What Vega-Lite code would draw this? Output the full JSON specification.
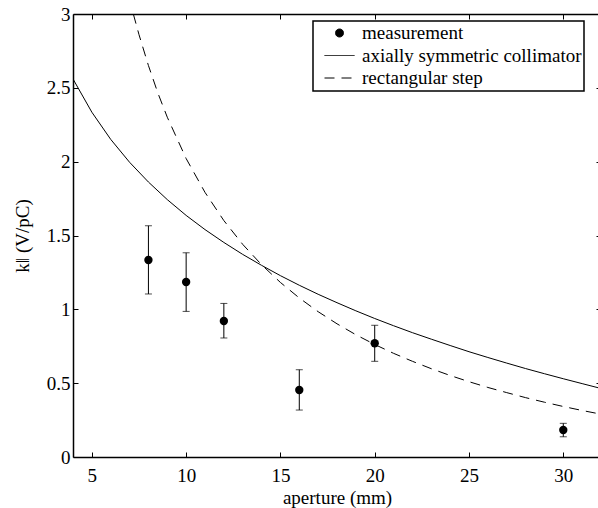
{
  "$schema": "https://vega.github.io/schema/vega-lite/v6.json",
  "width": 528,
  "height": 443,
  "autosize": {"type": "none"},
  "padding": {"left": 73, "top": 14, "right": 0, "bottom": 51},
  "background": "white",
  "config": {
    "font": "Times New Roman, Liberation Serif, Times, serif",
    "view": {"stroke": null},
    "axis": {
      "domainColor": "black", "tickColor": "black", "labelColor": "black", "titleColor": "black",
      "labelFont": "Times New Roman, Liberation Serif, Times, serif", "titleFont": "Times New Roman, Liberation Serif, Times, serif",
      "labelFontSize": 19, "titleFontSize": 19, "titleFontWeight": "normal",
      "grid": false, "tickSize": -5, "domainWidth": 1.5, "tickWidth": 1, "labelFlush": false
    },
    "legend": {
      "labelFont": "Times New Roman, Liberation Serif, Times, serif", "labelFontSize": 19, "labelColor": "black", "labelLimit": 0
    }
  },
  "datasets": {
    "curves": [
      {"x": 4, "k": 2.56, "series": "axially symmetric collimator"},
      {"x": 5, "k": 2.335, "series": "axially symmetric collimator"},
      {"x": 6, "k": 2.151, "series": "axially symmetric collimator"},
      {"x": 7, "k": 1.996, "series": "axially symmetric collimator"},
      {"x": 8, "k": 1.862, "series": "axially symmetric collimator"},
      {"x": 9, "k": 1.743, "series": "axially symmetric collimator"},
      {"x": 10, "k": 1.636, "series": "axially symmetric collimator"},
      {"x": 11, "k": 1.54, "series": "axially symmetric collimator"},
      {"x": 12, "k": 1.453, "series": "axially symmetric collimator"},
      {"x": 13, "k": 1.372, "series": "axially symmetric collimator"},
      {"x": 14, "k": 1.298, "series": "axially symmetric collimator"},
      {"x": 15, "k": 1.228, "series": "axially symmetric collimator"},
      {"x": 16, "k": 1.163, "series": "axially symmetric collimator"},
      {"x": 17, "k": 1.102, "series": "axially symmetric collimator"},
      {"x": 18, "k": 1.045, "series": "axially symmetric collimator"},
      {"x": 19, "k": 0.99, "series": "axially symmetric collimator"},
      {"x": 20, "k": 0.938, "series": "axially symmetric collimator"},
      {"x": 21, "k": 0.889, "series": "axially symmetric collimator"},
      {"x": 22, "k": 0.842, "series": "axially symmetric collimator"},
      {"x": 23, "k": 0.798, "series": "axially symmetric collimator"},
      {"x": 24, "k": 0.755, "series": "axially symmetric collimator"},
      {"x": 25, "k": 0.713, "series": "axially symmetric collimator"},
      {"x": 26, "k": 0.674, "series": "axially symmetric collimator"},
      {"x": 27, "k": 0.636, "series": "axially symmetric collimator"},
      {"x": 28, "k": 0.599, "series": "axially symmetric collimator"},
      {"x": 29, "k": 0.564, "series": "axially symmetric collimator"},
      {"x": 30, "k": 0.53, "series": "axially symmetric collimator"},
      {"x": 31, "k": 0.497, "series": "axially symmetric collimator"},
      {"x": 32, "k": 0.464, "series": "axially symmetric collimator"},
      {"x": 7.2, "k": 3.0, "series": "rectangular step"},
      {"x": 7.5, "k": 2.86, "series": "rectangular step"},
      {"x": 8, "k": 2.651, "series": "rectangular step"},
      {"x": 8.5, "k": 2.465, "series": "rectangular step"},
      {"x": 9, "k": 2.301, "series": "rectangular step"},
      {"x": 10, "k": 2.021, "series": "rectangular step"},
      {"x": 11, "k": 1.792, "series": "rectangular step"},
      {"x": 12, "k": 1.601, "series": "rectangular step"},
      {"x": 13, "k": 1.44, "series": "rectangular step"},
      {"x": 14, "k": 1.302, "series": "rectangular step"},
      {"x": 15, "k": 1.182, "series": "rectangular step"},
      {"x": 16, "k": 1.077, "series": "rectangular step"},
      {"x": 17, "k": 0.984, "series": "rectangular step"},
      {"x": 18, "k": 0.902, "series": "rectangular step"},
      {"x": 19, "k": 0.828, "series": "rectangular step"},
      {"x": 20, "k": 0.762, "series": "rectangular step"},
      {"x": 21, "k": 0.702, "series": "rectangular step"},
      {"x": 22, "k": 0.648, "series": "rectangular step"},
      {"x": 23, "k": 0.598, "series": "rectangular step"},
      {"x": 24, "k": 0.552, "series": "rectangular step"},
      {"x": 25, "k": 0.51, "series": "rectangular step"},
      {"x": 26, "k": 0.471, "series": "rectangular step"},
      {"x": 27, "k": 0.436, "series": "rectangular step"},
      {"x": 28, "k": 0.402, "series": "rectangular step"},
      {"x": 29, "k": 0.371, "series": "rectangular step"},
      {"x": 30, "k": 0.342, "series": "rectangular step"},
      {"x": 31, "k": 0.315, "series": "rectangular step"},
      {"x": 32, "k": 0.29, "series": "rectangular step"}
    ],
    "meas": [
      {"x": 8, "k": 1.334, "lo": 1.104, "hi": 1.566},
      {"x": 10, "k": 1.185, "lo": 0.986, "hi": 1.383},
      {"x": 12, "k": 0.921, "lo": 0.806, "hi": 1.04},
      {"x": 16, "k": 0.454, "lo": 0.318, "hi": 0.591},
      {"x": 20, "k": 0.77, "lo": 0.648, "hi": 0.892},
      {"x": 30, "k": 0.183, "lo": 0.137, "hi": 0.228}
    ]
  },
  "resolve": {"axis": {"x": "independent", "y": "independent"}},
  "layer": [
    {
      "data": {"name": "curves"},
      "transform": [{"filter": "datum.series === 'axially symmetric collimator'"}],
      "mark": {"type": "line", "strokeWidth": 1, "clip": true},
      "encoding": {
        "x": {"field": "x", "type": "quantitative", "scale": {"domain": [4, 32], "nice": false, "zero": false},
              "axis": {"orient": "bottom", "values": [5, 10, 15, 20, 25, 30], "title": "aperture (mm)", "labelPadding": 14, "titlePadding": 3}},
        "y": {"field": "k", "type": "quantitative", "scale": {"domain": [0, 3], "nice": false},
              "axis": {"orient": "left", "values": [0, 0.5, 1, 1.5, 2, 2.5, 3], "format": "~g", "title": "k‖ (V/pC)", "labelPadding": 8, "titlePadding": 14}},
        "color": {"field": "series", "type": "nominal",
          "scale": {"domain": ["measurement", "axially symmetric collimator", "rectangular step"], "range": ["black", "black", "black"]},
          "legend": {
            "title": null, "orient": "none", "legendX": 240, "legendY": 7,
            "strokeColor": "black", "fillColor": "white",
            "padding": 2.5, "symbolOffset": 14.5, "labelOffset": 13, "rowPadding": 2.5,
            "symbolStrokeColor": "black", "symbolStrokeWidth": 1,
            "encode": {
              "legend": {"update": {"strokeWidth": {"value": 1.5}}},
              "symbols": {"update": {
                "shape": {"signal": "datum.value === 'measurement' ? 'circle' : 'M-3,0H3'"},
                "size": {"signal": "datum.value === 'measurement' ? 64 : 100"},
                "fill": {"signal": "datum.value === 'measurement' ? 'black' : 'transparent'"},
                "stroke": {"value": "black"},
                "strokeDash": {"signal": "datum.value === 'rectangular step' ? [10, 7] : [1, 0]"}
              }}
            }
          }}
      }
    },
    {
      "data": {"name": "curves"},
      "transform": [{"filter": "datum.series === 'rectangular step'"}],
      "mark": {"type": "line", "strokeWidth": 1, "clip": true, "strokeDash": [10, 7]},
      "encoding": {
        "x": {"field": "x", "type": "quantitative", "axis": null},
        "y": {"field": "k", "type": "quantitative", "axis": null},
        "color": {"field": "series", "type": "nominal"}
      }
    },
    {
      "data": {"name": "meas"},
      "mark": {"type": "rule", "color": "black", "strokeWidth": 1},
      "encoding": {
        "x": {"field": "x", "type": "quantitative",
              "axis": {"orient": "top", "values": [5, 10, 15, 20, 25, 30], "labels": false, "title": null}},
        "y": {"field": "lo", "type": "quantitative",
              "axis": {"orient": "right", "values": [0, 0.5, 1, 1.5, 2, 2.5, 3], "labels": false, "title": null}},
        "y2": {"field": "hi"}
      }
    },
    {
      "data": {"name": "meas"},
      "mark": {"type": "tick", "color": "black", "thickness": 1, "size": 7, "orient": "horizontal"},
      "encoding": {
        "x": {"field": "x", "type": "quantitative", "axis": null},
        "y": {"field": "lo", "type": "quantitative", "axis": null}
      }
    },
    {
      "data": {"name": "meas"},
      "mark": {"type": "tick", "color": "black", "thickness": 1, "size": 7, "orient": "horizontal"},
      "encoding": {
        "x": {"field": "x", "type": "quantitative", "axis": null},
        "y": {"field": "hi", "type": "quantitative", "axis": null}
      }
    },
    {
      "data": {"name": "meas"},
      "mark": {"type": "point", "filled": true, "color": "black", "opacity": 1, "size": 70, "shape": "circle"},
      "encoding": {
        "x": {"field": "x", "type": "quantitative", "axis": null},
        "y": {"field": "k", "type": "quantitative", "axis": null}
      }
    }
  ]
}
